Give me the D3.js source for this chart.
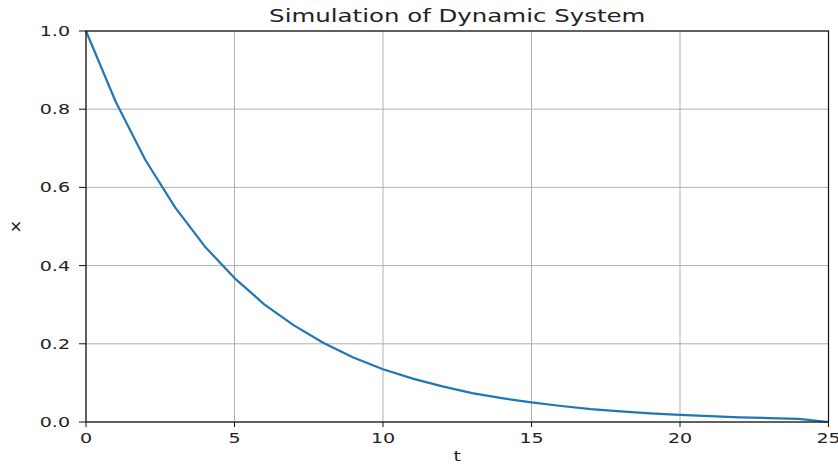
<!DOCTYPE html>
<html>
<head>
<meta charset="utf-8">
<script src="https://cdn.jsdelivr.net/npm/d3@7"></script>
<style>
  body { margin: 0; background: #fff; }
  svg { display: block; font-family: "DejaVu Sans", sans-serif; }
</style>
</head>
<body>
<svg id="chart" width="838" height="465"></svg>
<script>
// values
var t_values = [0,1,2,3,4,5,6,7,8,9,10,11,12,13,14,15,16,17,18,19,20,21,22,23,24,25];
var x_values = [1.0, 0.819, 0.670, 0.549, 0.449, 0.368, 0.301, 0.247, 0.202, 0.165,
                0.135, 0.111, 0.091, 0.074, 0.061, 0.050, 0.041, 0.033, 0.027, 0.022,
                0.018, 0.015, 0.012, 0.010, 0.008, 0.0];
var x_ticks = [0, 5, 10, 15, 20, 25];
var y_ticks = [0.0, 0.2, 0.4, 0.6, 0.8, 1.0];

var title = "Simulation of Dynamic System";
var x_label = "t";
var y_label = "x";

// the picture is stretched sideways, so is the text
var stretch = 1.36;

var plot_left = 86, plot_right = 828.5, plot_top = 31, plot_bottom = 422;

var svg = d3.select("#chart");

var xScale = d3.scaleLinear().domain([0, 25]).range([plot_left, plot_right]);
var yScale = d3.scaleLinear().domain([0, 1]).range([plot_bottom, plot_top]);

function addText(x, y, str, size, anchor, rot) {
  var g = svg.append("g")
    .attr("transform", "translate(" + x + "," + y + ")" + (rot ? " rotate(" + rot + ")" : "") + " scale(" + stretch + ",1)");
  g.append("text")
    .attr("text-anchor", anchor)
    .attr("font-size", size)
    .attr("fill", "#222")
    .text(str);
  return g;
}

// grid
svg.append("g").selectAll("line")
  .data(x_ticks).enter().append("line")
  .attr("x1", function(d){ return xScale(d); })
  .attr("x2", function(d){ return xScale(d); })
  .attr("y1", plot_top).attr("y2", plot_bottom)
  .attr("stroke", "#b0b0b0").attr("stroke-width", 1);

svg.append("g").selectAll("line")
  .data(y_ticks).enter().append("line")
  .attr("y1", function(d){ return yScale(d); })
  .attr("y2", function(d){ return yScale(d); })
  .attr("x1", plot_left).attr("x2", plot_right)
  .attr("stroke", "#b0b0b0").attr("stroke-width", 1);

// curve
var line = d3.line()
  .x(function(d){ return xScale(d[0]); })
  .y(function(d){ return yScale(d[1]); });

svg.append("path")
  .datum(d3.zip(t_values, x_values))
  .attr("d", line)
  .attr("fill", "none")
  .attr("stroke", "#1f77b4")
  .attr("stroke-width", 2.2)
  .attr("stroke-linejoin", "round");

// frame
svg.append("rect")
  .attr("x", plot_left).attr("y", plot_top)
  .attr("width", plot_right - plot_left).attr("height", plot_bottom - plot_top)
  .attr("fill", "none")
  .attr("stroke", "#111").attr("stroke-width", 1.2);

// ticks
svg.append("g").selectAll("line")
  .data(x_ticks).enter().append("line")
  .attr("x1", function(d){ return xScale(d); })
  .attr("x2", function(d){ return xScale(d); })
  .attr("y1", plot_bottom).attr("y2", plot_bottom + 5)
  .attr("stroke", "#111").attr("stroke-width", 1);

svg.append("g").selectAll("line")
  .data(y_ticks).enter().append("line")
  .attr("y1", function(d){ return yScale(d); })
  .attr("y2", function(d){ return yScale(d); })
  .attr("x1", plot_left - 7).attr("x2", plot_left)
  .attr("stroke", "#111").attr("stroke-width", 1);

x_ticks.forEach(function(d){
  addText(xScale(d), plot_bottom + 21, d3.format("d")(d), 14, "middle");
});
y_ticks.forEach(function(d){
  addText(plot_left - 16, yScale(d) + 5, d3.format(".1f")(d), 14, "end");
});

addText((plot_left + plot_right) / 2, 22, title, 18, "middle");
addText((plot_left + plot_right) / 2, 461, x_label, 14, "middle");
addText(20, (plot_top + plot_bottom) / 2, y_label, 14, "middle", -90);
</script>
</body>
</html>
